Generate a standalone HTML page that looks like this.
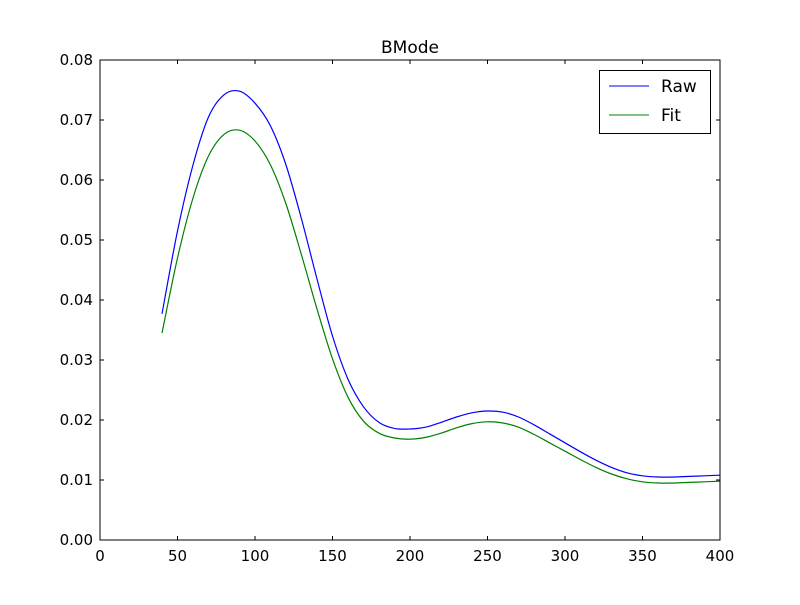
<!DOCTYPE html>
<html><head><meta charset="utf-8"><style>
body{margin:0;background:#fff;width:800px;height:600px;overflow:hidden}
svg text{font-family:"DejaVu Sans","Liberation Sans",sans-serif;fill:#000}
</style></head><body>
<svg id="chart" width="800" height="600">
<rect x="0" y="0" width="800" height="600" fill="#fff"/>
<g id="ticks"></g>
<g id="series"></g>
<rect x="100" y="60" width="620" height="480" fill="none" stroke="#000" stroke-width="1"/>
<text x="410" y="53" text-anchor="middle" font-size="17">BMode</text>
<g>
<rect x="599.5" y="70.5" width="111" height="63" fill="#fff" stroke="#000"/>
<line x1="609" y1="86" x2="649" y2="86" stroke="#0000ff"/>
<text x="661" y="92" font-size="17">Raw</text>
<line x1="609" y1="115" x2="649" y2="115" stroke="#008000"/>
<text x="661" y="121" font-size="17">Fit</text>
</g>
</svg>
<script>
const xValues=[40,50,60,70,80,90,100,110,120,130,140,150,160,170,180,190,200,210,220,230,240,250,260,270,280,290,300,310,320,330,340,350,360,370,380,390,400];
const rawValues=[0.0377,0.0515,0.0625,0.0705,0.0742,0.0748,0.0728,0.0690,0.0625,0.0535,0.0435,0.0340,0.0268,0.0222,0.0196,0.0186,0.0185,0.0188,0.0196,0.0205,0.0212,0.0215,0.0213,0.0205,0.0192,0.0177,0.0162,0.0147,0.0133,0.0121,0.0112,0.0107,0.0105,0.0105,0.0106,0.0107,0.0108];
const fitValues=[0.0345,0.0470,0.0570,0.0640,0.0676,0.0683,0.0665,0.0625,0.0560,0.0475,0.0385,0.0302,0.0238,0.0198,0.0178,0.0170,0.0168,0.0171,0.0178,0.0187,0.0194,0.0197,0.0195,0.0188,0.0176,0.0162,0.0148,0.0134,0.0121,0.0110,0.0102,0.0097,0.0095,0.0095,0.0096,0.0097,0.0098];
const xTicks=[0,50,100,150,200,250,300,350,400];
const yTicks=[0,0.01,0.02,0.03,0.04,0.05,0.06,0.07,0.08];
const yTickLabels=["0.00","0.01","0.02","0.03","0.04","0.05","0.06","0.07","0.08"];
const X=v=>100+v/400*620, Y=v=>540-v/0.08*480;
const NS="http://www.w3.org/2000/svg";
const tg=document.getElementById('ticks'), sg=document.getElementById('series');
function mk(tag,attrs,parent){const e=document.createElementNS(NS,tag);for(const k in attrs)e.setAttribute(k,attrs[k]);parent.appendChild(e);return e;}
xTicks.forEach(t=>{const x=X(t);
 let l=mk('path',{d:`M${x},540v-4M${x},60v4`,stroke:'#000'},tg);
 
 
 let tx=mk('text',{x:x,y:561,'text-anchor':'middle','font-size':'15'},tg);tx.textContent=t;
 
 });
yTicks.forEach((t,i)=>{const y=Y(t);
 let l=mk('path',{d:`M100,${y}h4M720,${y}h-4`,stroke:'#000'},tg);
 
 
 let tx=mk('text',{x:93,y:y+5,'text-anchor':'end','font-size':'15'},tg);tx.textContent=yTickLabels[i];
 
 });
function path(vals){const p=xValues.map((x,i)=>[X(x),Y(vals[i])]);let d=`M${p[0][0]},${p[0][1]}`;
 for(let i=0;i<p.length-1;i++){const p0=p[Math.max(0,i-1)],p1=p[i],p2=p[i+1],p3=p[Math.min(p.length-1,i+2)];
 d+=`C${p1[0]+(p2[0]-p0[0])/6},${p1[1]+(p2[1]-p0[1])/6} ${p2[0]-(p3[0]-p1[0])/6},${p2[1]-(p3[1]-p1[1])/6} ${p2[0]},${p2[1]}`;}return d;}
let r=mk('path',{d:path(rawValues),fill:'none',stroke:'#0000ff','stroke-width':1.2},sg);


let f=mk('path',{d:path(fitValues),fill:'none',stroke:'#008000','stroke-width':1.2},sg);


</script>
</body></html>
